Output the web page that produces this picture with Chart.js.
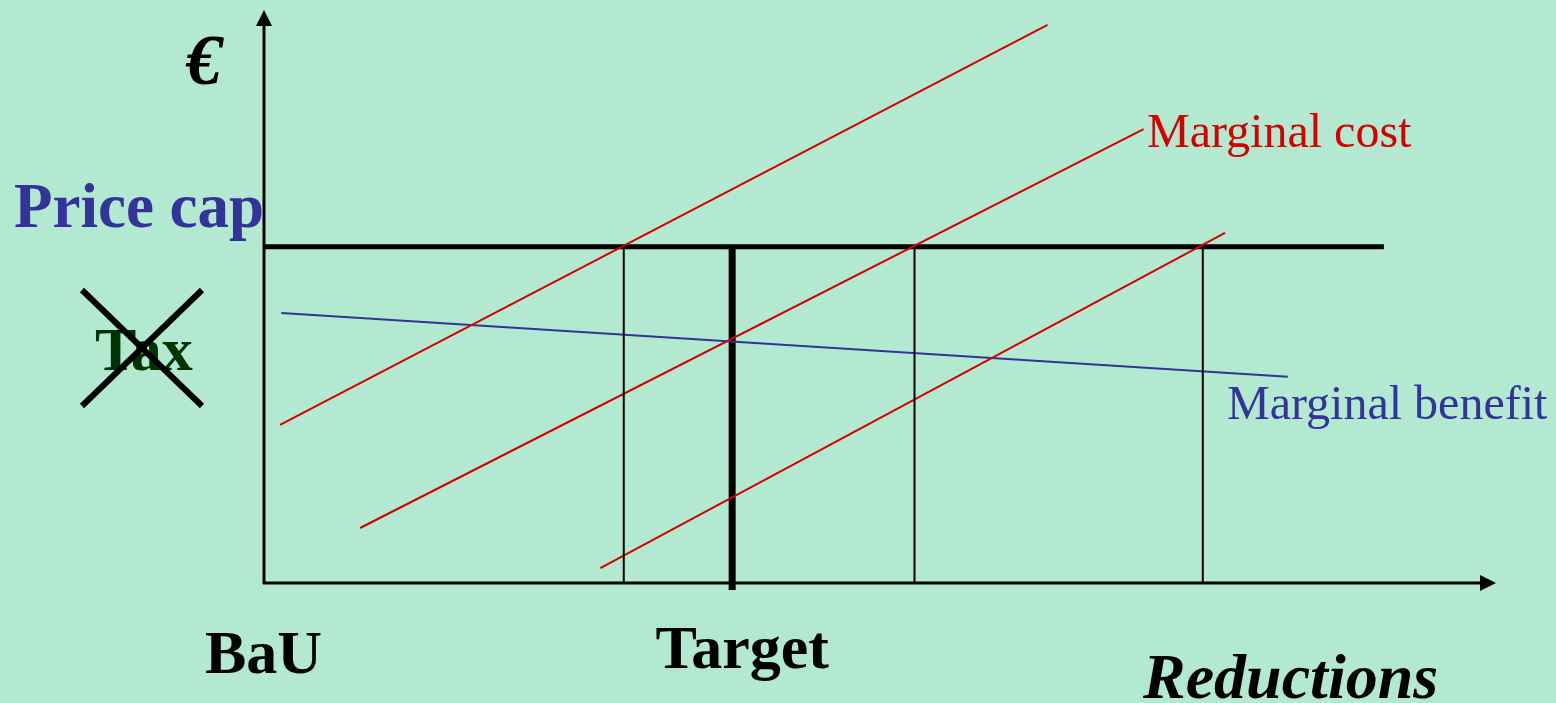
<!DOCTYPE html>
<html>
<head>
<meta charset="utf-8">
<script src="https://cdn.jsdelivr.net/npm/chart.js@4"></script>
<style>
  html, body { margin: 0; padding: 0; background: #b3e9d1; }
  #wrap { width: 1556px; height: 703px; position: relative; }
</style>
</head>
<body>
<div id="wrap"><canvas id="policyChart"></canvas></div>
<script>
// Schematic units: x = reductions (0 = BaU), y = € (0..100)
const marginalCostLow = [{ x: 27.3, y: 2.6 }, { x: 78.0, y: 61.1 }];
const marginalCostMid = [{ x: 7.8, y: 9.6 }, { x: 71.4, y: 79.2 }];
const marginalCostHigh = [{ x: 1.3, y: 27.6 }, { x: 63.6, y: 97.4 }];
const marginalBenefit = [{ x: 1.4, y: 47.1 }, { x: 83.1, y: 36.0 }];
const priceCap = 58.7;
const priceCapEnd = 90.9;
const capCrossings = [29.2, 52.8, 76.2]; // where the cost curves hit the cap
const target = 38.0;

const RED = "#d40000";
const BLUE = "#333399";
const SERIF = "'Liberation Serif', 'Times New Roman', serif";

// lignes verticales depuis l'axe jusqu'au plafond
const crossingSets = capCrossings.map((x) => ({
    data: [{ x: x, y: 0 }, { x: x, y: priceCap }],
    borderColor: "#000",
    borderWidth: 2,
}));

// Axes avec flèches + textes du schéma
const schemePlugin = {
    id: "scheme",
    beforeDatasetsDraw(chart) {
        const { ctx, chartArea } = chart;
        const x0 = chartArea.left, y0 = chartArea.bottom;
        ctx.save();
        ctx.strokeStyle = "#000";
        ctx.fillStyle = "#000";
        ctx.lineWidth = 3;
        ctx.beginPath();
        ctx.moveTo(x0, y0 + 1);
        ctx.lineTo(x0, chartArea.top + 12);
        ctx.moveTo(x0 - 1, y0);
        ctx.lineTo(chartArea.right - 12, y0);
        ctx.stroke();
        // arrow heads
        ctx.beginPath();
        ctx.moveTo(x0, chartArea.top);
        ctx.lineTo(x0 - 8, chartArea.top + 16);
        ctx.lineTo(x0 + 8, chartArea.top + 16);
        ctx.closePath();
        ctx.fill();
        ctx.beginPath();
        ctx.moveTo(chartArea.right, y0);
        ctx.lineTo(chartArea.right - 16, y0 - 8);
        ctx.lineTo(chartArea.right - 16, y0 + 8);
        ctx.closePath();
        ctx.fill();
        ctx.restore();
    },
    afterDraw(chart) {
        const { ctx, chartArea } = chart;
        const xs = chart.scales.x, ys = chart.scales.y;
        const x0 = chartArea.left, y0 = chartArea.bottom;
        ctx.save();
        ctx.textBaseline = "alphabetic";

        ctx.fillStyle = "#000";
        ctx.font = "italic bold 72px " + SERIF;
        ctx.fillText("€", x0 - 78, 84);

        ctx.fillStyle = BLUE;
        ctx.font = "bold 63px " + SERIF;
        ctx.fillText("Price cap", 14, ys.getPixelForValue(priceCap) - 20);

        ctx.fillStyle = "#003300";
        ctx.font = "bold 62px " + SERIF;
        ctx.fillText("Tax", 95, 370);
        ctx.strokeStyle = "#000";
        ctx.lineWidth = 6;
        ctx.beginPath();
        ctx.moveTo(82, 290);
        ctx.lineTo(202, 406);
        ctx.moveTo(202, 290);
        ctx.lineTo(82, 406);
        ctx.stroke();

        ctx.fillStyle = "#000";
        ctx.font = "bold 62px " + SERIF;
        ctx.fillText("BaU", x0 - 59, y0 + 90);
        ctx.textAlign = "center";
        ctx.fillText("Target", xs.getPixelForValue(target) + 10, y0 + 85);
        ctx.textAlign = "left";
        ctx.font = "italic bold 64px " + SERIF;
        ctx.fillText("Reductions", 1143, y0 + 115);

        ctx.font = "48px " + SERIF;
        ctx.fillStyle = RED;
        ctx.fillText("Marginal cost", 1147, 147);
        ctx.fillStyle = BLUE;
        ctx.fillText("Marginal benefit", 1227, 419);
        ctx.restore();
    },
};

new Chart(document.getElementById("policyChart"), {
    type: "line",
    data: {
        datasets: [
            ...crossingSets,
            { data: marginalCostHigh, borderColor: RED, borderWidth: 2 },
            { data: marginalCostMid, borderColor: RED, borderWidth: 2 },
            { data: marginalCostLow, borderColor: RED, borderWidth: 2 },
            { data: marginalBenefit, borderColor: BLUE, borderWidth: 2 },
            {
                data: [{ x: 0, y: priceCap }, { x: priceCapEnd, y: priceCap }],
                borderColor: "#000",
                borderWidth: 5,
            },
            {
                data: [{ x: target, y: -1.2 }, { x: target, y: priceCap }],
                borderColor: "#000",
                borderWidth: 7,
                borderCapStyle: "butt",
            },
        ].map((d) => Object.assign({ pointRadius: 0, tension: 0, fill: false, clip: false }, d)),
    },
    options: {
        responsive: true,
        maintainAspectRatio: false,
        animation: false,
        layout: { padding: { left: 264, right: 60, top: 10, bottom: 120 } },
        plugins: { legend: { display: false }, tooltip: { enabled: false } },
        scales: {
            x: { type: "linear", min: 0, max: 100, display: false },
            y: { type: "linear", min: 0, max: 100, display: false },
        },
    },
    plugins: [schemePlugin],
});
</script>
</body>
</html>
